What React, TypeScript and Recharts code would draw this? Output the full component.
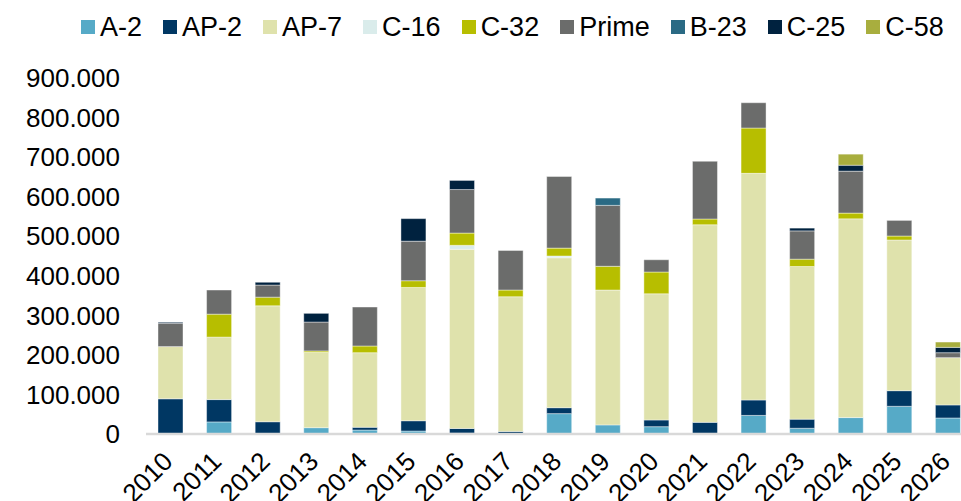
import React from 'react';
import { Bar, BarChart, Legend, XAxis, YAxis } from 'recharts';

// years on the x axis
const years = ['2010', '2011', '2012', '2013', '2014', '2015', '2016', '2017', '2018', '2019', '2020', '2021', '2022', '2023', '2024', '2025', '2026'];

// stacked series, bottom to top
const a2 = [0, 30500, 0, 16000, 10000, 7500, 2000, 0, 51500, 23000, 18500, 1500, 47000, 14500, 41500, 70000, 40500];
const ap2 = [89000, 56500, 31000, 0, 7000, 26000, 12000, 6500, 15000, 0, 17000, 28000, 39000, 23000, 0, 39500, 33000];
const ap7 = [132000, 158000, 293000, 190500, 188500, 337000, 453000, 340500, 379000, 341000, 319000, 499500, 573000, 386000, 502500, 381000, 119500];
const c16 = [0, 0, 0, 0, 0, 0, 10000, 0, 4500, 0, 0, 0, 0, 0, 0, 0, 0];
const c32 = [0, 58000, 22000, 3500, 17000, 17000, 31000, 17000, 20000, 60000, 55000, 14500, 114500, 18500, 14500, 10000, 0];
const prime = [59000, 61000, 30500, 73000, 98500, 100000, 110000, 100000, 181000, 154000, 31000, 146000, 64000, 71500, 106000, 39500, 12500];
const b23 = [0, 0, 0, 0, 0, 0, 0, 0, 0, 18500, 0, 0, 0, 0, 0, 0, 0];
const c25 = [2500, 0, 7000, 22000, 0, 57000, 23000, 0, 0, 0, 0, 0, 0, 7000, 15000, 0, 13500];
const c58 = [0, 0, 0, 0, 0, 0, 0, 0, 0, 0, 0, 0, 0, 0, 28000, 0, 13500];

const yTicks = [0, 100000, 200000, 300000, 400000, 500000, 600000, 700000, 800000, 900000];

const series = [
  { key: 'A-2', values: a2, color: '#56AAC7' },
  { key: 'AP-2', values: ap2, color: '#003763' },
  { key: 'AP-7', values: ap7, color: '#DFE2AC' },
  { key: 'C-16', values: c16, color: '#DAECEB' },
  { key: 'C-32', values: c32, color: '#B7BE00' },
  { key: 'Prime', values: prime, color: '#6B6C6B' },
  { key: 'B-23', values: b23, color: '#2A6A84' },
  { key: 'C-25', values: c25, color: '#00223F' },
  { key: 'C-58', values: c58, color: '#A8AE3E' },
];

const data = years.map((year, i) => {
  const row: Record<string, string | number> = { year };
  series.forEach((s) => { row[s.key] = s.values[i]; });
  return row;
});

const FONT = '"Liberation Sans", Arial, sans-serif';

const fmt = (v: number) => String(v).replace(/\B(?=(\d{3})+(?!\d))/g, '.');

const YearTick = (props: any) => {
  const { x, y, payload } = props;
  return (
    <g transform={`translate(${x + 4},${y + 27})`}>
      <text x={0} y={0} textAnchor="end" transform="rotate(-45)" fontSize={26} fontFamily={FONT} fill="#000">
        {payload.value}
      </text>
    </g>
  );
};

const LegendBox = () => (
  <div style={{ display: 'flex', alignItems: 'center', height: 40, paddingLeft: 81, fontFamily: FONT, fontSize: 27, color: '#000', whiteSpace: 'nowrap' }}>
    {series.map((s) => (
      <div key={s.key} style={{ display: 'flex', alignItems: 'center', marginRight: 21 }}>
        <span style={{ width: 14, height: 14, background: s.color, marginRight: 5, display: 'inline-block' }} />
        <span>{s.key}</span>
      </div>
    ))}
  </div>
);

export default function App() {
  return (
    <div style={{ position: 'absolute', left: 0, top: 0, width: 961, height: 501, overflow: 'hidden', background: '#fff' }}>
      <BarChart width={980} height={501} data={data} margin={{ top: 38, right: 8, left: 0, bottom: 0 }} barSize={25}>
        <Legend verticalAlign="top" content={<LegendBox />} wrapperStyle={{ top: 7, left: 0, width: 961 }} />
        <XAxis
          dataKey="year"
          height={67}
          interval={0}
          tickLine={false}
          tickSize={0}
          tick={<YearTick />}
          axisLine={{ stroke: '#D9D9D9', strokeWidth: 2.5 }}
        />
        <YAxis
          width={146}
          domain={[0, 900000]}
          ticks={yTicks}
          tickFormatter={fmt}
          axisLine={false}
          tickLine={false}
          tickSize={0}
          tickMargin={26}
          tick={{ fontSize: 26, fontFamily: FONT, fill: '#000' }}
        />
        {series.map((s) => (
          <Bar
            key={s.key}
            dataKey={s.key}
            stackId="a"
            fill={s.color}
            stroke="#ffffff"
            strokeWidth={0.6}
            strokeOpacity={0.7}
            isAnimationActive={false}
          />
        ))}
      </BarChart>
    </div>
  );
}
